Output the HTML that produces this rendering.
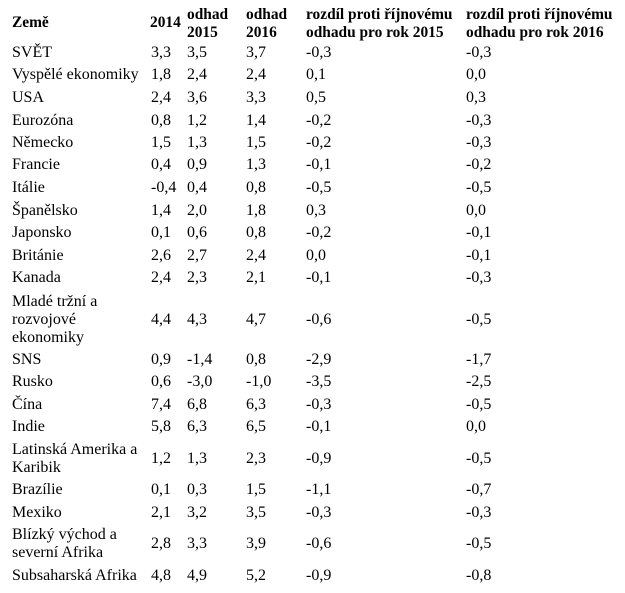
<!DOCTYPE html>
<html><head><meta charset="utf-8"><style>
body{margin:0;background:#fff;width:625px;height:593px;position:relative;overflow:hidden;font-family:"Liberation Serif",serif;font-size:16px;color:#000}
div{position:absolute;line-height:18px;white-space:nowrap}
.b{font-weight:bold;font-size:15.4px}
</style></head><body>
<div class="b" style="left:12px;top:14px">Země</div>
<div class="b" style="left:150px;top:14px">2014</div>
<div class="b" style="left:187px;top:6px">odhad<br>2015</div>
<div class="b" style="left:246px;top:6px">odhad<br>2016</div>
<div class="b" style="left:306px;top:6px">rozdíl proti říjnovému<br>odhadu pro rok 2015</div>
<div class="b" style="left:466px;top:6px">rozdíl proti říjnovému<br>odhadu pro rok 2016</div>
<script>
var rows=[
["SVĚT",53,"3,3","3,5","3,7","-0,3","-0,3"],
["Vyspělé ekonomiky",75,"1,8","2,4","2,4","0,1","0,0"],
["USA",98,"2,4","3,6","3,3","0,5","0,3"],
["Eurozóna",121,"0,8","1,2","1,4","-0,2","-0,3"],
["Německo",143,"1,5","1,3","1,5","-0,2","-0,3"],
["Francie",165,"0,4","0,9","1,3","-0,1","-0,2"],
["Itálie",188,"-0,4","0,4","0,8","-0,5","-0,5"],
["Španělsko",211,"1,4","2,0","1,8","0,3","0,0"],
["Japonsko",233,"0,1","0,6","0,8","-0,2","-0,1"],
["Británie",256,"2,6","2,7","2,4","0,0","-0,1"],
["Kanada",278,"2,4","2,3","2,1","-0,1","-0,3"],
["Mladé tržní a<br>rozvojové<br>ekonomiky",320,"4,4","4,3","4,7","-0,6","-0,5"],
["SNS",360,"0,9","-1,4","0,8","-2,9","-1,7"],
["Rusko",382,"0,6","-3,0","-1,0","-3,5","-2,5"],
["Čína",405,"7,4","6,8","6,3","-0,3","-0,5"],
["Indie",427,"5,8","6,3","6,5","-0,1","0,0"],
["Latinská Amerika a<br>Karibik",459,"1,2","1,3","2,3","-0,9","-0,5"],
["Brazílie",490,"0,1","0,3","1,5","-1,1","-0,7"],
["Mexiko",513,"2,1","3,2","3,5","-0,3","-0,3"],
["Blízký východ a<br>severní Afrika",544,"2,8","3,3","3,9","-0,6","-0,5"],
["Subsaharská Afrika",576,"4,8","4,9","5,2","-0,9","-0,8"]];
var xs=[151,187,246,306,466],h="";
rows.forEach(function(r){var n=(r[0].match(/<br>/g)||[]).length+1;
h+='<div style="left:12px;top:'+(r[1]-9*n)+'px">'+r[0]+'</div>';
for(var i=0;i<5;i++)h+='<div style="left:'+xs[i]+'px;top:'+(r[1]-9)+'px">'+r[i+2]+'</div>';});
document.write(h);
</script>
</body></html>
